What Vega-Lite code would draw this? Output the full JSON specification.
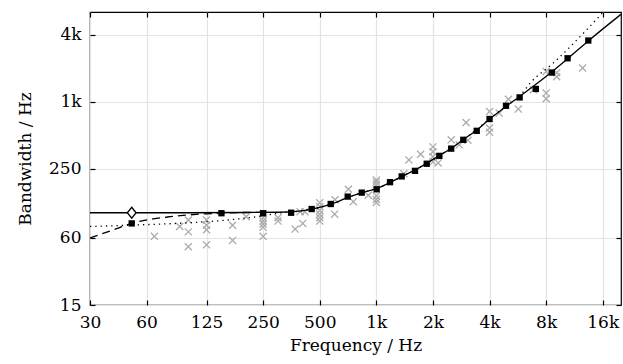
{
  "$schema": "https://vega.github.io/schema/vega-lite/v6.json",
  "width": 531,
  "height": 293,
  "autosize": {"type": "none"},
  "padding": {"left": 90, "top": 12, "right": 2, "bottom": 59},
  "background": "white",
  "config": {
    "font": "DejaVu Serif",
    "view": {"stroke": "black", "strokeWidth": 1.2},
    "axis": {
      "domain": false,
      "gridColor": "#e3e3e3",
      "gridWidth": 1.2,
      "tickColor": "black",
      "tickWidth": 1.2,
      "tickSize": -5,
      "labelFont": "DejaVu Serif",
      "labelFontSize": 17,
      "labelColor": "black",
      "titleFont": "DejaVu Serif",
      "titleFontSize": 17,
      "titleFontWeight": "normal",
      "titleColor": "black"
    }
  },
  "datasets": {
    "crosses": [
      {"f": 66, "b": 62}, {"f": 90, "b": 76}, {"f": 100, "b": 87}, {"f": 100, "b": 68}, {"f": 100, "b": 50},
      {"f": 125, "b": 87}, {"f": 125, "b": 78}, {"f": 125, "b": 71}, {"f": 125, "b": 52},
      {"f": 172, "b": 78}, {"f": 172, "b": 57}, {"f": 203, "b": 93},
      {"f": 250, "b": 99}, {"f": 250, "b": 91}, {"f": 250, "b": 85}, {"f": 250, "b": 80}, {"f": 250, "b": 75}, {"f": 250, "b": 62},
      {"f": 300, "b": 91}, {"f": 300, "b": 85}, {"f": 370, "b": 72}, {"f": 406, "b": 81}, {"f": 393, "b": 103}, {"f": 417, "b": 103},
      {"f": 500, "b": 124}, {"f": 500, "b": 115}, {"f": 500, "b": 106}, {"f": 500, "b": 98}, {"f": 500, "b": 91}, {"f": 500, "b": 85},
      {"f": 600, "b": 98}, {"f": 603, "b": 132}, {"f": 710, "b": 164}, {"f": 754, "b": 127}, {"f": 906, "b": 145},
      {"f": 1000, "b": 199}, {"f": 1000, "b": 190}, {"f": 1000, "b": 180}, {"f": 1000, "b": 143}, {"f": 1000, "b": 133}, {"f": 1000, "b": 125},
      {"f": 1400, "b": 226}, {"f": 1490, "b": 301}, {"f": 1720, "b": 338},
      {"f": 2000, "b": 394}, {"f": 2000, "b": 356}, {"f": 2000, "b": 321}, {"f": 2000, "b": 289}, {"f": 2130, "b": 283},
      {"f": 2500, "b": 456}, {"f": 2760, "b": 411}, {"f": 3000, "b": 652}, {"f": 3070, "b": 451},
      {"f": 4000, "b": 819}, {"f": 4000, "b": 581}, {"f": 4000, "b": 534}, {"f": 4500, "b": 792},
      {"f": 5040, "b": 1054}, {"f": 5690, "b": 860}, {"f": 6840, "b": 1282},
      {"f": 8000, "b": 1873}, {"f": 8000, "b": 1198}, {"f": 8000, "b": 1065},
      {"f": 9100, "b": 1823}, {"f": 9100, "b": 1678}, {"f": 12500, "b": 2010}
    ],
    "squares": [
      {"f": 50, "b": 81}, {"f": 150, "b": 100}, {"f": 250, "b": 100}, {"f": 352, "b": 101}, {"f": 453, "b": 109},
      {"f": 572, "b": 121}, {"f": 704, "b": 141}, {"f": 836, "b": 153}, {"f": 1004, "b": 164}, {"f": 1182, "b": 190},
      {"f": 1364, "b": 214}, {"f": 1605, "b": 240}, {"f": 1853, "b": 278}, {"f": 2163, "b": 327}, {"f": 2500, "b": 380},
      {"f": 2900, "b": 456}, {"f": 3418, "b": 549}, {"f": 4000, "b": 701}, {"f": 4892, "b": 921}, {"f": 5780, "b": 1095},
      {"f": 7050, "b": 1305}, {"f": 8570, "b": 1830}, {"f": 10400, "b": 2460}, {"f": 13400, "b": 3550}
    ],
    "solid": [
      {"f": 30, "b": 101}, {"f": 100, "b": 101}, {"f": 200, "b": 101.5}, {"f": 300, "b": 102}, {"f": 400, "b": 105},
      {"f": 500, "b": 113}, {"f": 600, "b": 124}, {"f": 700, "b": 138}, {"f": 850, "b": 154}, {"f": 1000, "b": 166},
      {"f": 1200, "b": 191}, {"f": 1400, "b": 218}, {"f": 1600, "b": 243}, {"f": 1850, "b": 280}, {"f": 2150, "b": 328},
      {"f": 2500, "b": 381}, {"f": 2900, "b": 458}, {"f": 3400, "b": 552}, {"f": 4000, "b": 700}, {"f": 4900, "b": 910},
      {"f": 5800, "b": 1120}, {"f": 7000, "b": 1420}, {"f": 8200, "b": 1750}, {"f": 10400, "b": 2440}, {"f": 13400, "b": 3520},
      {"f": 20000, "b": 6100}
    ],
    "dotted": [
      {"f": 30, "b": 76}, {"f": 60, "b": 79}, {"f": 100, "b": 82}, {"f": 125, "b": 84}, {"f": 175, "b": 88},
      {"f": 250, "b": 95}, {"f": 300, "b": 100}, {"f": 400, "b": 105}, {"f": 500, "b": 113}, {"f": 600, "b": 124},
      {"f": 700, "b": 138}, {"f": 850, "b": 154}, {"f": 1000, "b": 166}, {"f": 1400, "b": 218}, {"f": 2000, "b": 302},
      {"f": 2900, "b": 458}, {"f": 4000, "b": 700}, {"f": 4900, "b": 915}, {"f": 5800, "b": 1130}, {"f": 6567, "b": 1470},
      {"f": 8730, "b": 2230}, {"f": 13150, "b": 4440}, {"f": 16500, "b": 6700}
    ],
    "dashed": [
      {"f": 30, "b": 60}, {"f": 40, "b": 71}, {"f": 50, "b": 81}, {"f": 65, "b": 89}, {"f": 80, "b": 93},
      {"f": 100, "b": 96.5}, {"f": 120, "b": 98.6}, {"f": 150, "b": 100}, {"f": 200, "b": 101.5}, {"f": 250, "b": 101.7}
    ],
    "diamond": [{"f": 50, "b": 101}]
  },
  "resolve": {"axis": {"x": "independent", "y": "independent"}},
  "layer": [
    {
      "data": {"name": "crosses"},
      "mark": {"type": "point", "shape": "M-1,-1L1,1M1,-1L-1,1", "filled": false, "stroke": "#ababab", "strokeWidth": 1.3, "size": 50, "opacity": 1},
      "encoding": {
        "x": {"field": "f", "type": "quantitative",
          "scale": {"type": "log", "domain": [30, 20000], "nice": false, "zero": false},
          "axis": {"orient": "bottom", "values": [30, 60, 125, 250, 500, 1000, 2000, 4000, 8000, 16000],
            "labelExpr": "datum.value >= 1000 ? (datum.value/1000) + 'k' : '' + datum.value",
            "labelPadding": 14, "title": "Frequency / Hz", "titlePadding": 7, "grid": true, "labelFlush": false}},
        "y": {"field": "b", "type": "quantitative",
          "scale": {"type": "log", "domain": [15, 6400], "nice": false, "zero": false},
          "axis": {"orient": "left", "values": [15, 60, 250, 1000, 4000],
            "labelExpr": "datum.value >= 1000 ? (datum.value/1000) + 'k' : '' + datum.value",
            "labelPadding": 14, "title": "Bandwidth / Hz", "titlePadding": 14, "grid": true, "labelFlush": false}}
      }
    },
    {
      "data": {"name": "solid"},
      "mark": {"type": "line", "color": "black", "strokeWidth": 1.3, "interpolate": "monotone", "clip": true},
      "encoding": {
        "x": {"field": "f", "type": "quantitative", "axis": null},
        "y": {"field": "b", "type": "quantitative", "axis": null}
      }
    },
    {
      "data": {"name": "dotted"},
      "mark": {"type": "line", "color": "black", "strokeWidth": 1.3, "strokeDash": [1.3, 4], "interpolate": "monotone", "clip": true},
      "encoding": {
        "x": {"field": "f", "type": "quantitative", "axis": null},
        "y": {"field": "b", "type": "quantitative", "axis": null}
      }
    },
    {
      "data": {"name": "dashed"},
      "mark": {"type": "line", "color": "black", "strokeWidth": 1.3, "strokeDash": [8, 5], "interpolate": "monotone", "clip": true},
      "encoding": {
        "x": {"field": "f", "type": "quantitative", "axis": null},
        "y": {"field": "b", "type": "quantitative", "axis": null}
      }
    },
    {
      "data": {"name": "squares"},
      "mark": {"type": "point", "shape": "square", "filled": true, "color": "black", "size": 40, "opacity": 1},
      "encoding": {
        "x": {"field": "f", "type": "quantitative", "axis": null},
        "y": {"field": "b", "type": "quantitative", "axis": null}
      }
    },
    {
      "data": {"name": "diamond"},
      "mark": {"type": "point", "shape": "M0,-1L0.8,0L0,1L-0.8,0Z", "filled": true, "fill": "white", "stroke": "black", "strokeWidth": 1.3, "size": 120, "opacity": 1},
      "encoding": {
        "x": {"field": "f", "type": "quantitative",
          "axis": {"orient": "top", "values": [30, 60, 125, 250, 500, 1000, 2000, 4000, 8000, 16000], "labels": false, "title": null, "grid": false}},
        "y": {"field": "b", "type": "quantitative",
          "axis": {"orient": "right", "values": [15, 60, 250, 1000, 4000], "labels": false, "title": null, "grid": false}}
      }
    }
  ]
}
